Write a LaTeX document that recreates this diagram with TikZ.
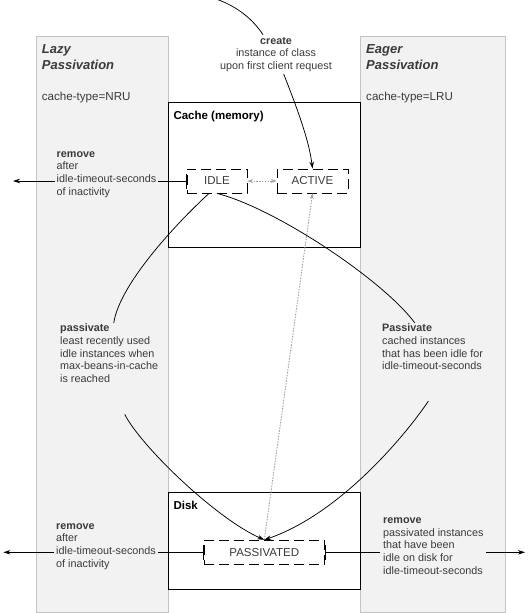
\documentclass[tikz,border=0pt]{standalone}
\usepackage{fontspec}
\setmainfont{Liberation Sans}
\usetikzlibrary{arrows.meta}
\definecolor{panelgray}{HTML}{F2F2F2}
\definecolor{panelline}{HTML}{C4C4C4}
\definecolor{txt}{HTML}{3A3A3A}
\definecolor{dotgray}{HTML}{A0A0A0}
\begin{document}
\begin{tikzpicture}[x=1pt,y=-1pt,
  panel/.style={fill=panelgray, draw=panelline, line width=0.9pt},
  store/.style={draw=black, fill=white, line width=1pt},
  statebox/.style={draw=black, fill=white, line width=0.9pt, dash pattern=on 10pt off 5pt,
    minimum height=24pt, inner sep=0pt, font=\fontsize{11.5}{13}\selectfont, text=txt},
  lbl/.style={font=\fontsize{10.8}{12.7}\selectfont, text=txt, align=left, anchor=base west,
    inner xsep=2pt, inner ysep=1pt},
  heading/.style={font=\fontsize{13}{16}\selectfont\bfseries\itshape, text=txt, align=left,
    anchor=base west, inner sep=0pt},
  ctype/.style={font=\fontsize{11.6}{14}\selectfont, text=txt, anchor=base west, inner sep=0pt},
  boxtitle/.style={font=\fontsize{11.5}{14}\selectfont\bfseries, text=black, anchor=base west, inner sep=0pt},
  conn/.style={draw=black, line width=0.75pt},
  dotconn/.style={draw=dotgray, line width=0.9pt, dash pattern=on 1.5pt off 1.3pt},
  tip/.style={-{Stealth[length=7pt,width=4.5pt]}},
  bartip/.style={{Bar[width=15pt]}-{Stealth[length=7pt,width=4.5pt]}},
  grtip/.style={-{Stealth[length=5.5pt,width=4pt]}}
]
\useasboundingbox (0,0) rectangle (529,613);

% side panels
\draw[panel] (36.4,36.4) rectangle (168.3,612);
\draw[panel] (360.5,36.4) rectangle (505,612);

% stores
\draw[store] (168.3,102.3) rectangle (360.5,247.5);
\draw[store] (168.3,492.8) rectangle (360.5,589.5);

% titles (base = last line)
\node[heading] (lazyt) at (41.7,69.3) {Lazy\\Passivation};
\node[ctype] (nru) at (41.7,100.5) {cache-type=NRU};
\node[heading] (eagert) at (366,69.3) {Eager\\Passivation};
\node[ctype] (lru) at (366,100.5) {cache-type=LRU};
\node[boxtitle] (cachet) at (173.3,119) {Cache (memory)};
\node[boxtitle] (diskt) at (173.3,509.5) {Disk};

% states
\node[statebox, minimum width=60pt] (idle) at (217,181) {IDLE};
\node[statebox, minimum width=71pt] (active) at (312.5,181) {ACTIVE};
\node[statebox, minimum width=120.5pt] (passivated) at (264.3,552.3) {PASSIVATED};

% coordinates for free ends
\coordinate (createsrc) at (216,-1);
\coordinate (idleout) at (13,181);
\coordinate (passLout) at (3.4,552.3);
\coordinate (passRout) at (525,552.3);
\coordinate (passLresume) at (124.8,414.4);
\coordinate (passRresume) at (428.4,401);

% create
\node[font=\fontsize{10.8}{12.7}\selectfont, text=txt, align=center, anchor=north, inner sep=2pt]
  (createlbl) at (276,34.8)
  {\textbf{create}\\instance of class\\upon first client request};
\draw[conn] (createsrc) .. controls (236,6) and (252,18) .. (createlbl);
\draw[conn, tip] (createlbl) .. controls (297,108) and (309,140) .. (active.north);

% idle <-> active
\draw[dotconn, {Stealth[length=5.5pt,width=4pt]}-{Stealth[length=5.5pt,width=4pt]}] (idle.east) -- (active.west);
% passivated -> active
\draw[dotconn, grtip] (passivated.north) -- (active.south);

% passivate labels
\node[lbl] (passL) at (58,382.6)
  {\textbf{passivate}\\least recently used\\idle instances when\\max-beans-in-cache\\is reached};
\node[lbl] (passR) at (380,369.9)
  {\textbf{Passivate}\\cached instances\\that has been idle for\\idle-timeout-seconds};

\draw[conn] ([xshift=-8pt]idle.south) .. controls (182,218) and (120,282) .. (passL);
\draw[conn, tip] (passLresume) .. controls (140,445) and (215,518) .. (passivated.north);
\draw[conn] (idle.south) .. controls (275,208) and (383,280) .. (passR);
\draw[conn, tip] (passRresume) .. controls (412,426) and (345,512) .. (passivated.north);

% remove connectors
\draw[conn, bartip] (idle.west) -- (idleout);
\draw[conn, bartip] (passivated.west) -- (passLout);
\draw[conn, bartip] (passivated.east) -- (passRout);

% remove labels
\node[lbl, fill=panelgray] (remL1) at (54.5,195.3)
  {\textbf{remove}\\after\\idle-timeout-seconds\\of inactivity};
\node[lbl, fill=panelgray] (remL2) at (54,567.1)
  {\textbf{remove}\\after\\idle-timeout-seconds\\of inactivity};
\node[lbl, fill=panelgray, inner xsep=3pt] (remR) at (380,574.3)
  {\textbf{remove}\\passivated instances\\that have been\\idle on disk for\\idle-timeout-seconds};
\end{tikzpicture}
\end{document}
